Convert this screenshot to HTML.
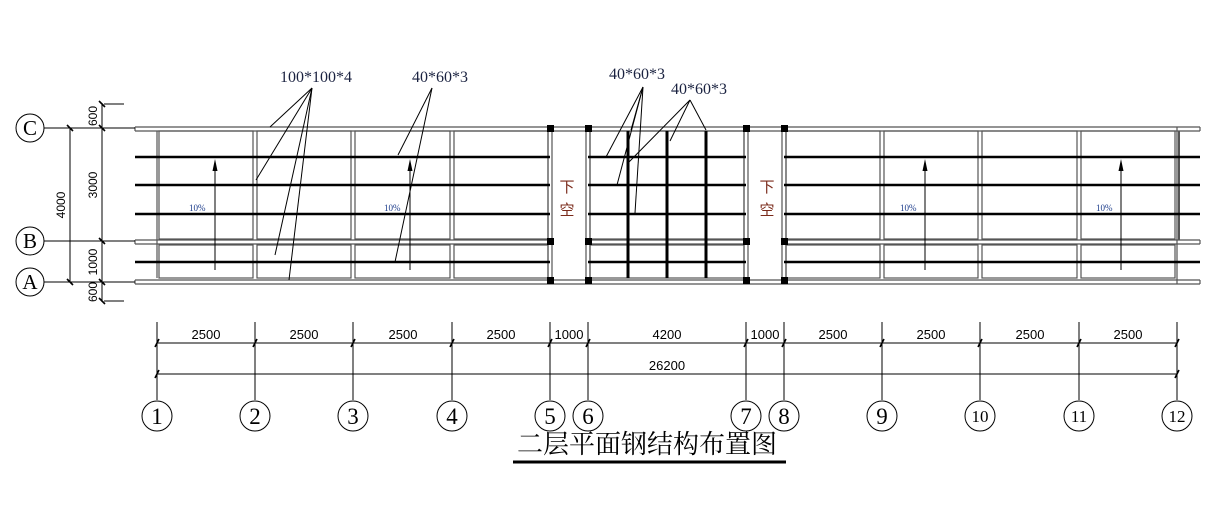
<!DOCTYPE html>
<html><head><meta charset="utf-8"><style>
html,body{margin:0;padding:0;background:#fff;}
svg{display:block}
text{font-family:"Liberation Sans","Noto Sans CJK SC",sans-serif;}
.s, .s text{font-family:"Liberation Serif","Noto Serif CJK SC",serif;}
</style></head><body>
<svg width="1218" height="506" viewBox="0 0 1218 506" xmlns="http://www.w3.org/2000/svg">
<g fill="none" stroke="#555" stroke-width="1.2">
<line x1="135" y1="127" x2="1200" y2="127"/><line x1="135" y1="131" x2="1200" y2="131"/>
<line x1="135" y1="280" x2="1200" y2="280"/><line x1="135" y1="284" x2="1200" y2="284"/>
<line x1="135" y1="240" x2="550" y2="240"/><line x1="135" y1="244" x2="550" y2="244"/>
<line x1="588" y1="240" x2="746" y2="240"/><line x1="588" y1="244" x2="746" y2="244"/>
<line x1="784" y1="240" x2="1200" y2="240"/><line x1="784" y1="244" x2="1200" y2="244"/>
<rect x="159" y="131" width="94" height="108"/><rect x="159" y="245" width="94" height="33"/>
<rect x="257" y="131" width="94" height="108"/><rect x="257" y="245" width="94" height="33"/>
<rect x="355" y="131" width="95" height="108"/><rect x="355" y="245" width="95" height="33"/>
<rect x="454" y="131" width="94" height="108"/><rect x="454" y="245" width="94" height="33"/>
<rect x="590" y="131" width="154" height="108"/><rect x="590" y="245" width="154" height="33"/>
<rect x="786" y="131" width="94" height="108"/><rect x="786" y="245" width="94" height="33"/>
<rect x="884" y="131" width="94" height="108"/><rect x="884" y="245" width="94" height="33"/>
<rect x="982" y="131" width="95" height="108"/><rect x="982" y="245" width="95" height="33"/>
<rect x="1081" y="131" width="94" height="108"/><rect x="1081" y="245" width="94" height="33"/>
<line x1="548" y1="127" x2="548" y2="284"/><line x1="552" y1="127" x2="552" y2="284"/>
<line x1="586" y1="127" x2="586" y2="284"/><line x1="590" y1="127" x2="590" y2="284"/>
<line x1="744" y1="127" x2="744" y2="284"/><line x1="748" y1="127" x2="748" y2="284"/>
<line x1="782" y1="127" x2="782" y2="284"/><line x1="786" y1="127" x2="786" y2="284"/>
<line x1="1177" y1="127" x2="1177" y2="284"/><line x1="1179" y1="131" x2="1179" y2="240" stroke-width="2"/>
<line x1="157" y1="131" x2="157" y2="278"/>
<line x1="135" y1="127" x2="135" y2="131"/><line x1="135" y1="280" x2="135" y2="284"/>
<line x1="135" y1="240" x2="135" y2="244"/>
<line x1="1200" y1="127" x2="1200" y2="131"/><line x1="1200" y1="280" x2="1200" y2="284"/>
<line x1="1200" y1="240" x2="1200" y2="244"/>
</g>
<g stroke="#000" stroke-width="2.6">
<line x1="135" y1="157" x2="550" y2="157"/><line x1="588" y1="157" x2="746" y2="157"/><line x1="784" y1="157" x2="1200" y2="157"/>
<line x1="135" y1="185" x2="550" y2="185"/><line x1="588" y1="185" x2="746" y2="185"/><line x1="784" y1="185" x2="1200" y2="185"/>
<line x1="135" y1="214" x2="550" y2="214"/><line x1="588" y1="214" x2="746" y2="214"/><line x1="784" y1="214" x2="1200" y2="214"/>
<line x1="135" y1="262" x2="550" y2="262"/><line x1="588" y1="262" x2="746" y2="262"/><line x1="784" y1="262" x2="1200" y2="262"/>
<line x1="628" y1="131" x2="628" y2="278" stroke-width="3"/>
<line x1="667" y1="131" x2="667" y2="278" stroke-width="3"/>
<line x1="706" y1="131" x2="706" y2="278" stroke-width="3"/>
</g>
<g fill="#000">
<rect x="547" y="125" width="7" height="7"/><rect x="547" y="238" width="7" height="7"/><rect x="547" y="277" width="7" height="7"/>
<rect x="585" y="125" width="7" height="7"/><rect x="585" y="238" width="7" height="7"/><rect x="585" y="277" width="7" height="7"/>
<rect x="743" y="125" width="7" height="7"/><rect x="743" y="238" width="7" height="7"/><rect x="743" y="277" width="7" height="7"/>
<rect x="781" y="125" width="7" height="7"/><rect x="781" y="238" width="7" height="7"/><rect x="781" y="277" width="7" height="7"/>
</g>
<text x="567" y="192" font-size="15" fill="#7a2a1a" text-anchor="middle">下</text>
<text x="567" y="215" font-size="15" fill="#7a2a1a" text-anchor="middle">空</text>
<text x="767" y="192" font-size="15" fill="#7a2a1a" text-anchor="middle">下</text>
<text x="767" y="215" font-size="15" fill="#7a2a1a" text-anchor="middle">空</text>
<g stroke="#000" stroke-width="1">
<line x1="215" y1="270" x2="215" y2="168"/><line x1="410" y1="270" x2="410" y2="168"/>
<line x1="925" y1="270" x2="925" y2="168"/><line x1="1121" y1="270" x2="1121" y2="168"/>
</g>
<g fill="#000">
<polygon points="215,159 212.5,171 217.5,171"/><polygon points="410,159 407.5,171 412.5,171"/>
<polygon points="925,159 922.5,171 927.5,171"/><polygon points="1121,159 1118.5,171 1123.5,171"/>
</g>
<g class="s" font-size="9" fill="#1a3a8a">
<text x="189" y="211">10%</text><text x="384" y="211">10%</text>
<text x="900" y="211">10%</text><text x="1096" y="211">10%</text>
</g>
<g stroke="#000" stroke-width="1">
<line x1="312" y1="88" x2="270" y2="127"/><line x1="312" y1="88" x2="256" y2="180"/>
<line x1="312" y1="88" x2="275" y2="255"/><line x1="312" y1="88" x2="289" y2="280"/>
<line x1="432" y1="88" x2="398" y2="155"/><line x1="432" y1="88" x2="395" y2="262"/>
<line x1="643" y1="87" x2="606" y2="157"/><line x1="643" y1="87" x2="617" y2="185"/>
<line x1="643" y1="87" x2="635" y2="213"/><line x1="643" y1="87" x2="631" y2="130"/>
<line x1="690" y1="100" x2="628" y2="163"/><line x1="690" y1="100" x2="670" y2="141"/>
<line x1="690" y1="100" x2="706" y2="130"/>
</g>
<g class="s" font-size="16" fill="#1a2240">
<text x="316" y="82" text-anchor="middle">100*100*4</text>
<text x="440" y="82" text-anchor="middle">40*60*3</text>
<text x="637" y="79" text-anchor="middle">40*60*3</text>
<text x="699" y="94" text-anchor="middle">40*60*3</text>
</g>
<g stroke="#000" stroke-width="1" fill="none">
<line x1="44" y1="128" x2="135" y2="128"/><line x1="44" y1="241" x2="135" y2="241"/><line x1="44" y1="282" x2="135" y2="282"/>
<line x1="104" y1="104" x2="124" y2="104"/><line x1="104" y1="301" x2="124" y2="301"/>
<line x1="70" y1="128" x2="70" y2="282"/><line x1="102" y1="103" x2="102" y2="302"/>
<circle cx="30" cy="128" r="14"/><circle cx="30" cy="241" r="14"/><circle cx="30" cy="282" r="14"/>
</g>
<g stroke="#000" stroke-width="1.6">
<line x1="67" y1="125" x2="73" y2="131"/><line x1="67" y1="279" x2="73" y2="285"/>
<line x1="99" y1="101" x2="105" y2="107"/><line x1="99" y1="125" x2="105" y2="131"/>
<line x1="99" y1="238" x2="105" y2="244"/><line x1="99" y1="279" x2="105" y2="285"/><line x1="99" y1="298" x2="105" y2="304"/>
</g>
<g class="s" font-size="21" fill="#000" text-anchor="middle">
<text x="30" y="135">C</text><text x="30" y="248">B</text><text x="30" y="289">A</text>
</g>
<g font-size="12" fill="#000" text-anchor="middle">
<text transform="translate(65,205) rotate(-90)">4000</text>
<text transform="translate(97,185) rotate(-90)">3000</text>
<text transform="translate(97,262) rotate(-90)">1000</text>
<text transform="translate(97,116) rotate(-90)">600</text>
<text transform="translate(97,292) rotate(-90)">600</text>
</g>
<g stroke="#000" stroke-width="1">
<line x1="157" y1="343" x2="1177" y2="343"/><line x1="157" y1="374" x2="1177" y2="374"/>
<line x1="157" y1="322" x2="157" y2="400"/><line x1="255" y1="322" x2="255" y2="400"/>
<line x1="353" y1="322" x2="353" y2="400"/><line x1="452" y1="322" x2="452" y2="400"/>
<line x1="550" y1="322" x2="550" y2="400"/><line x1="588" y1="322" x2="588" y2="400"/>
<line x1="746" y1="322" x2="746" y2="400"/><line x1="784" y1="322" x2="784" y2="400"/>
<line x1="882" y1="322" x2="882" y2="400"/><line x1="980" y1="322" x2="980" y2="400"/>
<line x1="1079" y1="322" x2="1079" y2="400"/><line x1="1177" y1="322" x2="1177" y2="400"/>
</g>
<g stroke="#000" stroke-width="1.6">
<line x1="155" y1="347" x2="159" y2="339"/><line x1="253" y1="347" x2="257" y2="339"/><line x1="351" y1="347" x2="355" y2="339"/>
<line x1="450" y1="347" x2="454" y2="339"/><line x1="548" y1="347" x2="552" y2="339"/><line x1="586" y1="347" x2="590" y2="339"/>
<line x1="744" y1="347" x2="748" y2="339"/><line x1="782" y1="347" x2="786" y2="339"/><line x1="880" y1="347" x2="884" y2="339"/>
<line x1="978" y1="347" x2="982" y2="339"/><line x1="1077" y1="347" x2="1081" y2="339"/><line x1="1175" y1="347" x2="1179" y2="339"/>
<line x1="155" y1="378" x2="159" y2="370"/><line x1="1175" y1="378" x2="1179" y2="370"/>
</g>
<g font-size="13" fill="#000" text-anchor="middle">
<text x="206" y="339">2500</text><text x="304" y="339">2500</text><text x="403" y="339">2500</text><text x="501" y="339">2500</text>
<text x="569" y="339">1000</text><text x="667" y="339">4200</text><text x="765" y="339">1000</text>
<text x="833" y="339">2500</text><text x="931" y="339">2500</text><text x="1030" y="339">2500</text><text x="1128" y="339">2500</text>
<text x="667" y="370">26200</text>
</g>
<g stroke="#000" stroke-width="1" fill="none">
<circle cx="157" cy="416" r="15"/><circle cx="255" cy="416" r="15"/><circle cx="353" cy="416" r="15"/>
<circle cx="452" cy="416" r="15"/><circle cx="550" cy="416" r="15"/><circle cx="588" cy="416" r="15"/>
<circle cx="746" cy="416" r="15"/><circle cx="784" cy="416" r="15"/><circle cx="882" cy="416" r="15"/>
<circle cx="980" cy="416" r="15"/><circle cx="1079" cy="416" r="15"/><circle cx="1177" cy="416" r="15"/>
</g>
<g class="s" font-size="23" fill="#000" text-anchor="middle">
<text x="157" y="424">1</text><text x="255" y="424">2</text><text x="353" y="424">3</text>
<text x="452" y="424">4</text><text x="550" y="424">5</text><text x="588" y="424">6</text>
<text x="746" y="424">7</text><text x="784" y="424">8</text><text x="882" y="424">9</text>
</g>
<g class="s" font-size="17" fill="#000" text-anchor="middle">
<text x="980" y="422">10</text><text x="1079" y="422">11</text><text x="1177" y="422">12</text>
</g>
<text x="647" y="453" font-size="26" fill="#000" text-anchor="middle" style="font-family:'Noto Serif CJK SC','Liberation Serif',serif">二层平面钢结构布置图</text>
<line x1="513" y1="462" x2="786" y2="462" stroke="#000" stroke-width="3"/>
</svg>
</body></html>
